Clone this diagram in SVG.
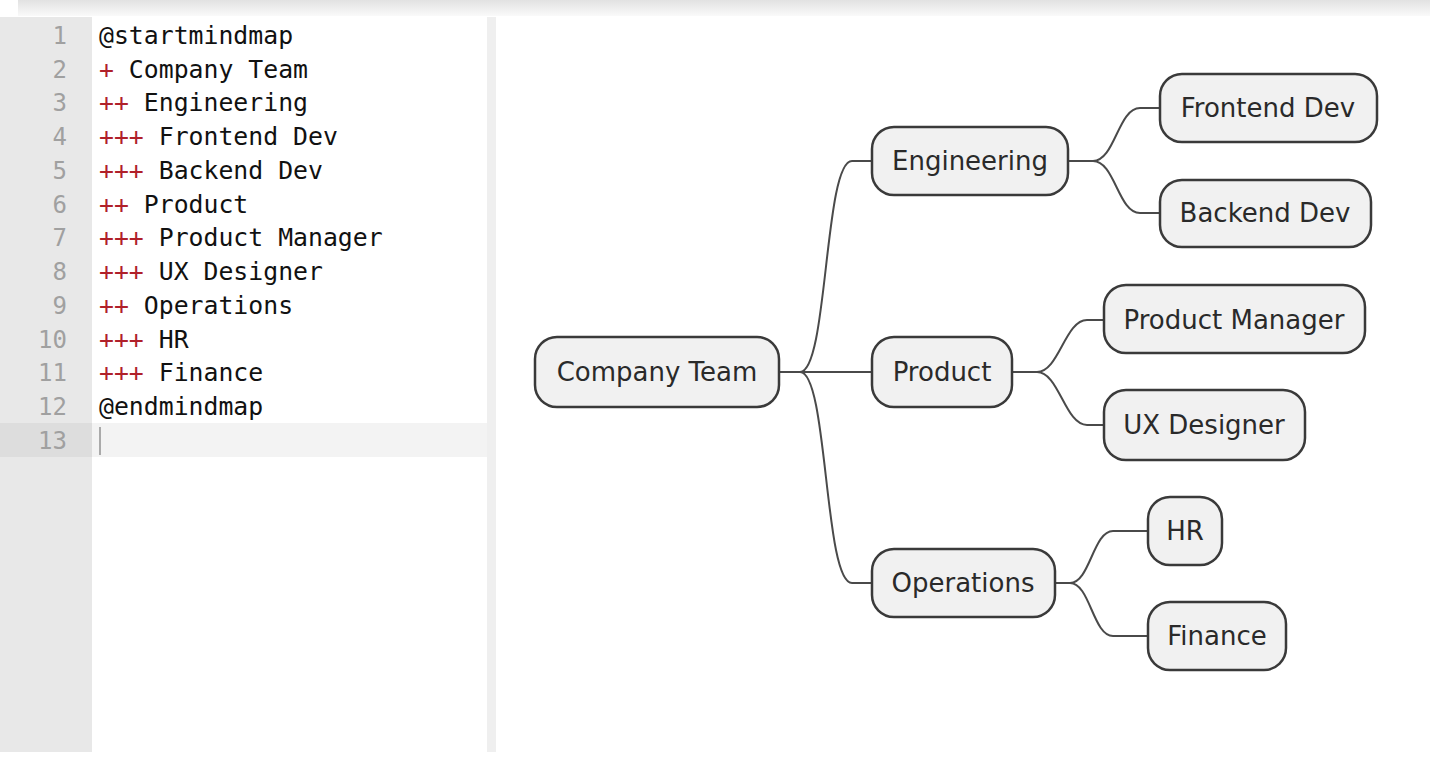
<svg xmlns="http://www.w3.org/2000/svg" width="1430" height="757" viewBox="0 0 1430 757">
<defs>
<linearGradient id="topShade" x1="0" y1="0" x2="0" y2="1">
<stop offset="0" stop-color="#e2e2e2"/>
<stop offset="1" stop-color="#fafafa"/>
</linearGradient>
</defs>
<style>
.code{font-family:"DejaVu Sans Mono","Liberation Mono",monospace;font-size:24.8px;fill:#111}
.plus{fill:#b0202a}
.ln{font-family:"DejaVu Sans Mono","Liberation Mono",monospace;font-size:24px;fill:#a0a0a0;text-anchor:end}
.node rect{fill:#f1f1f1;stroke:#3a3a3a;stroke-width:2.5}
.node text{font-family:"DejaVu Sans",Verdana,sans-serif;font-size:26px;fill:#2a2a2a;text-anchor:middle;dominant-baseline:central}
.conn path{fill:none;stroke:#4a4a4a;stroke-width:2}
</style>
<rect width="1430" height="757" fill="#ffffff"/>
<rect x="18" y="0" width="1412" height="16" fill="url(#topShade)"/>
<g id="editor">
<rect x="0" y="17" width="92" height="735" fill="#e8e8e8"/>
<rect x="487" y="17" width="9" height="735" fill="#efefef"/>
<rect x="0" y="423" width="92" height="34" fill="#dddddd"/>
<rect x="92" y="423" width="395" height="34" fill="#f3f3f3"/>
<rect x="99" y="427" width="2" height="28" fill="#aaaaaa"/>
<text class="ln" x="67" y="44">1</text>
<text class="ln" x="67" y="78">2</text>
<text class="ln" x="67" y="111">3</text>
<text class="ln" x="67" y="145">4</text>
<text class="ln" x="67" y="179">5</text>
<text class="ln" x="67" y="213">6</text>
<text class="ln" x="67" y="246">7</text>
<text class="ln" x="67" y="280">8</text>
<text class="ln" x="67" y="314">9</text>
<text class="ln" x="67" y="348">10</text>
<text class="ln" x="67" y="381">11</text>
<text class="ln" x="67" y="415">12</text>
<text class="ln" x="67" y="449">13</text>
<text class="code" x="99" y="44">@startmindmap</text>
<text class="code" x="99" y="78"><tspan class="plus">+</tspan> Company Team</text>
<text class="code" x="99" y="111"><tspan class="plus">++</tspan> Engineering</text>
<text class="code" x="99" y="145"><tspan class="plus">+++</tspan> Frontend Dev</text>
<text class="code" x="99" y="179"><tspan class="plus">+++</tspan> Backend Dev</text>
<text class="code" x="99" y="213"><tspan class="plus">++</tspan> Product</text>
<text class="code" x="99" y="246"><tspan class="plus">+++</tspan> Product Manager</text>
<text class="code" x="99" y="280"><tspan class="plus">+++</tspan> UX Designer</text>
<text class="code" x="99" y="314"><tspan class="plus">++</tspan> Operations</text>
<text class="code" x="99" y="348"><tspan class="plus">+++</tspan> HR</text>
<text class="code" x="99" y="381"><tspan class="plus">+++</tspan> Finance</text>
<text class="code" x="99" y="415">@endmindmap</text>
</g>
<g id="connectors" class="conn">
<path d="M779,372 H800 C828,372 824,161 852,161 H872"/>
<path d="M800,372 H872"/>
<path d="M800,372 C828,372 824,583 852,583 H872"/>
<path d="M1068,161 H1093 C1115,161 1118,108 1140,108 H1160"/>
<path d="M1093,161 C1115,161 1118,213 1140,213 H1160"/>
<path d="M1012,372 H1037 C1059,372 1065,320 1087,320 H1104"/>
<path d="M1037,372 C1059,372 1065,425 1087,425 H1104"/>
<path d="M1055,583 H1070 C1090,583 1093,531 1113,531 H1148"/>
<path d="M1070,583 C1090,583 1093,636 1113,636 H1148"/>
</g>
<g id="node-company-team" class="node"><rect x="535" y="337" width="244" height="70" rx="22"/><text x="657" y="372">Company Team</text></g>
<g id="node-engineering" class="node"><rect x="872" y="127" width="196" height="68" rx="22"/><text x="970" y="161">Engineering</text></g>
<g id="node-product" class="node"><rect x="872" y="337" width="140" height="70" rx="22"/><text x="942" y="372">Product</text></g>
<g id="node-operations" class="node"><rect x="872" y="549" width="183" height="68" rx="22"/><text x="963" y="583">Operations</text></g>
<g id="node-frontend-dev" class="node"><rect x="1160" y="74" width="217" height="68" rx="22"/><text x="1268" y="108">Frontend Dev</text></g>
<g id="node-backend-dev" class="node"><rect x="1160" y="180" width="211" height="67" rx="22"/><text x="1265" y="213">Backend Dev</text></g>
<g id="node-product-manager" class="node"><rect x="1104" y="285" width="261" height="68" rx="22"/><text x="1234" y="320">Product Manager</text></g>
<g id="node-ux-designer" class="node"><rect x="1104" y="390" width="201" height="70" rx="22"/><text x="1204" y="425">UX Designer</text></g>
<g id="node-hr" class="node"><rect x="1148" y="497" width="74" height="68" rx="22"/><text x="1185" y="531">HR</text></g>
<g id="node-finance" class="node"><rect x="1148" y="602" width="138" height="68" rx="22"/><text x="1217" y="636">Finance</text></g>
</svg>
